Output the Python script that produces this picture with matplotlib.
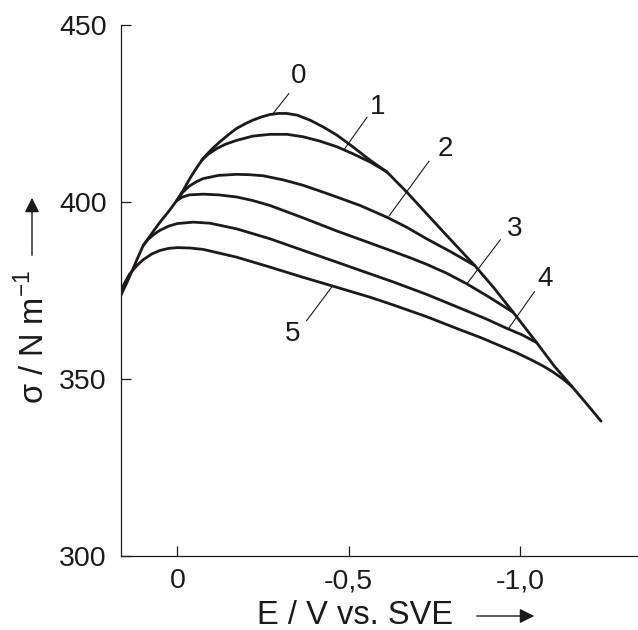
import matplotlib
matplotlib.use("Agg")
import matplotlib.pyplot as plt

plt.rcParams['font.family'] = ['Liberation Sans', 'DejaVu Sans']

# electrocapillary curves, E in V vs. SVE, sigma in N m-1 (values as printed on the axis)
e0 = [0.166, 0.150, 0.134, 0.117, 0.100, 0.075, 0.051, 0.025, 0.002, -0.018, -0.036,
      -0.055, -0.075, -0.100, -0.125, -0.150, -0.173, -0.200, -0.220, -0.245, -0.270,
      -0.295, -0.319, -0.350, -0.387, -0.425, -0.465, -0.510, -0.562, -0.611, -0.669,
      -0.727, -0.786, -0.868, -0.922, -0.980, -1.048, -1.100, -1.151, -1.195, -1.236]
s0 = [373.4, 376.6, 380.1, 383.9, 387.6, 391.0, 394.2, 397.3, 400.3, 403.4, 406.5,
      409.4, 412.2, 414.8, 417.0, 419.0, 420.7, 422.1, 423.0, 423.9, 424.6,
      424.9, 424.9, 424.4, 423.0, 421.1, 418.8, 415.6, 411.7, 408.4, 402.7,
      396.6, 390.4, 381.9, 375.8, 368.7, 360.2, 353.5, 347.8, 342.8, 338.0]

e1 = [-0.070, -0.090, -0.115, -0.140, -0.173, -0.220, -0.270, -0.320, -0.367, -0.415,
      -0.465, -0.510, -0.562, -0.611]
s1 = [411.6, 413.4, 415.0, 416.2, 417.3, 418.5, 419.0, 419.0, 418.3, 417.1,
      415.5, 413.6, 411.2, 408.4]

e2 = [0.002, -0.015, -0.035, -0.055, -0.075, -0.120, -0.173, -0.210, -0.250, -0.310,
      -0.367, -0.415, -0.465, -0.533, -0.611, -0.670, -0.727, -0.800, -0.868]
s2 = [400.3, 402.6, 404.4, 405.6, 406.5, 407.4, 407.7, 407.6, 407.3, 406.1,
      404.6, 403.0, 401.3, 398.9, 395.6, 392.7, 389.5, 385.7, 381.9]

e3 = [0.002, -0.015, -0.035, -0.075, -0.120, -0.173, -0.220, -0.270, -0.367, -0.465,
      -0.562, -0.630, -0.680, -0.727, -0.785, -0.844, -0.910, -0.980]
s3 = [400.3, 401.3, 401.9, 402.1, 401.9, 401.3, 400.3, 398.9, 395.4, 391.7,
      388.3, 385.9, 384.1, 382.3, 379.8, 376.8, 373.0, 368.7]

e4 = [0.100, 0.085, 0.068, 0.051, 0.025, 0.000, -0.046, -0.095, -0.173, -0.270,
      -0.367, -0.465, -0.562, -0.630, -0.727, -0.825, -0.900, -0.961, -1.005, -1.048]
s4 = [387.6, 389.4, 390.8, 391.9, 393.1, 393.8, 394.2, 393.9, 392.3, 389.5,
      386.2, 382.9, 379.6, 377.3, 373.8, 369.9, 366.9, 364.2, 362.4, 360.2]

e5 = [0.166, 0.158, 0.140, 0.119, 0.100, 0.075, 0.051, 0.025, 0.000, -0.036, -0.075,
      -0.173, -0.270, -0.367, -0.465, -0.562, -0.630, -0.727, -0.825, -0.885, -0.941,
      -0.990, -1.039, -1.070, -1.097, -1.125, -1.151]
s5 = [373.4, 376.3, 379.5, 381.9, 383.6, 385.2, 386.2, 386.8, 387.0, 386.9, 386.5,
      384.3, 381.5, 378.6, 375.8, 373.0, 370.8, 367.5, 363.8, 361.6, 359.3,
      357.3, 355.0, 353.4, 351.8, 349.9, 347.8]

curves = [(e0, s0), (e1, s1), (e2, s2), (e3, s3), (e4, s4), (e5, s5)]

# curve labels: text position, leader start, leader end (on the curve)
labels = ["0", "1", "2", "3", "4", "5"]
label_pos = [(-0.355, 435.4), (-0.583, 426.7), (-0.782, 414.9),
             (-0.985, 392.4), (-1.073, 378.2), (-0.337, 362.5)]
leaders = [((-0.325, 430.5), (-0.276, 424.5)),
           ((-0.553, 423.8), (-0.487, 414.8)),
           ((-0.734, 411.4), (-0.618, 396.0)),
           ((-0.942, 389.2), (-0.844, 376.7)),
           ((-1.042, 374.6), (-0.968, 364.4)),
           ((-0.377, 366.4), (-0.452, 376.1))]

xticks = [0, -0.5, -1.0]
xticklabels = ["0", "-0,5", "-1,0"]
yticks = [300, 350, 400, 450]

ink = '#1e1a1b'

fig = plt.figure(figsize=(6.38, 6.30), dpi=100)
ax = fig.add_axes([0.189, 0.118, 0.811, 0.843])

for e, s in curves:
    ax.plot(e, s, color=ink, lw=2.0, solid_capstyle='round', solid_joinstyle='round')

for lab, (tx, ty), (p0, p1) in zip(labels, label_pos, leaders):
    ax.plot([p0[0], p1[0]], [p0[1], p1[1]], color=ink, lw=0.8)
    ax.text(tx, ty, lab, fontsize=20, ha='center', va='center', color=ink)

ax.set_xlim(0.166, -1.344)
ax.set_ylim(300, 450)
ax.set_xticks(xticks)
ax.set_xticklabels(xticklabels)
ax.set_yticks(yticks)
ax.tick_params(direction='in', length=7, width=0.9, labelsize=20.5, colors=ink, pad=9)
ax.tick_params(axis='y', pad=10)
for side in ['top', 'right']:
    ax.spines[side].set_visible(False)
for side in ['left', 'bottom']:
    ax.spines[side].set_linewidth(0.9)
    ax.spines[side].set_color(ink)

# axis titles with arrows
fig.text(355 / 638, 1 - 615 / 630, "E / V vs. SVE", fontsize=23.5, ha='center', va='center', color=ink)
fig.text(34 / 638, 1 - 337 / 630, r"σ / N m$^{\mathregular{-1}}$", fontsize=23.5, rotation=90,
         ha='center', va='center', color=ink)
fig.add_artist(matplotlib.patches.FancyArrowPatch(
    (474 / 638, 1 - 616 / 630), (537 / 638, 1 - 616 / 630), transform=fig.transFigure,
    arrowstyle='-|>', mutation_scale=22, lw=1.0, color=ink))
fig.add_artist(matplotlib.patches.FancyArrowPatch(
    (32 / 638, 1 - 258 / 630), (32 / 638, 1 - 195 / 630), transform=fig.transFigure,
    arrowstyle='-|>', mutation_scale=22, lw=1.0, color=ink))

fig.savefig("out.png", dpi=100)
